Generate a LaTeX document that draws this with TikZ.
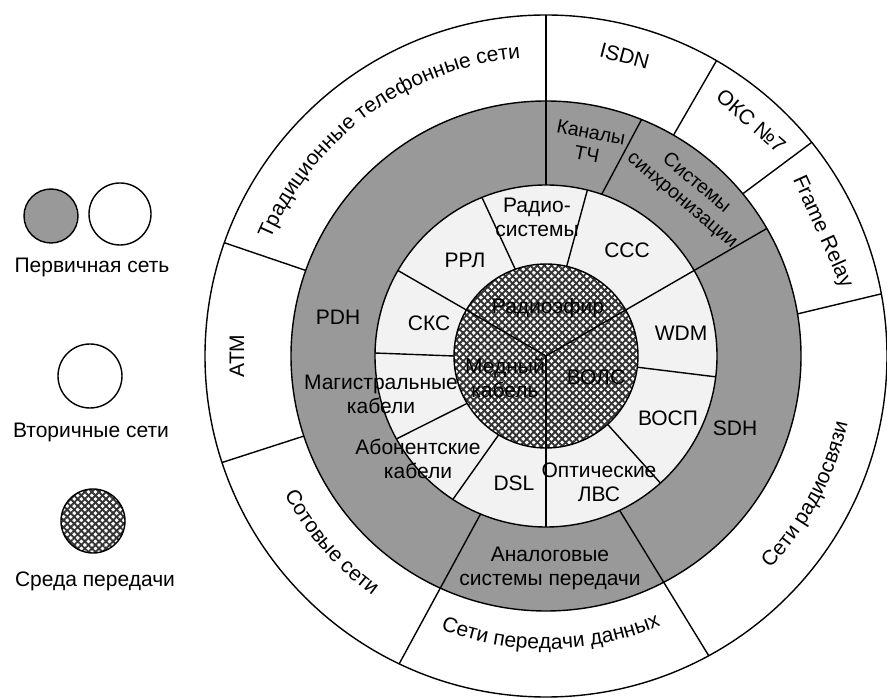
\documentclass[tikz,border=0pt]{standalone}
\usepackage{fontspec}
\setmainfont{Liberation Sans}
\usetikzlibrary{decorations.text,patterns.meta}
\newcommand{\ringfont}{\fontsize{21}{24}\selectfont}
\newcommand{\arclabel}[4]{%
  \path[decorate,decoration={text along path,text align=center,text={|\ringfont|#1}}]
    (#2:#4pt) arc[start angle=#2,end angle=#3,radius=#4pt];}
\begin{document}
\begin{tikzpicture}[x=1pt,y=1pt,
  ring/.style={draw=black,line width=1.4pt},
  lbl/.style={font=\ringfont,align=center,inner sep=0pt},
  smlbl/.style={font=\fontsize{19.5}{22}\selectfont,align=center,inner sep=0pt},
  hatcha/.style={pattern={Lines[angle=45,distance=5pt,line width=1.9pt]},pattern color=black!80},
  hatchb/.style={pattern={Lines[angle=-45,distance=5pt,line width=1.9pt]},pattern color=black!80},
  primfill/.style={fill=black!40},
  secfill/.style={fill=black!5}]
\useasboundingbox (0,0) rectangle (887,697);
\fill[white] (0,0) rectangle (887,697);

% ---------- legend ----------
\draw[ring,primfill] (51,481) circle (27pt);
\draw[ring,fill=white] (120,483) circle (31pt);
\node[lbl] (lp) at (92,430) {Первичная сеть};
\draw[ring,fill=white] (90,321) circle (32pt);
\node[lbl] (lv) at (91,265) {Вторичные сети};
\fill[white] (93,176) circle (32pt);
\path[hatcha] (93,176) circle (32pt);
\path[hatchb] (93,176) circle (32pt);
\draw[ring] (93,176) circle (32pt);
\node[lbl] (ls) at (95,116) {Среда передачи};

% ---------- rings ----------
\begin{scope}[shift={(546,341)}]
\draw[ring,fill=white] (0,0) circle (341pt);
\draw[ring,primfill] (0,0) circle (255pt);
\draw[ring,secfill] (0,0) circle (171pt);
\fill[white] (0,0) circle (92pt);
\path[hatcha] (0,0) circle (92pt);
\path[hatchb] (0,0) circle (92pt);
\draw[ring] (0,0) circle (92pt);

% outer ring spokes
\draw[ring] (90:171pt) -- (90:341pt);
\draw[ring] (60:255pt) -- (60:341pt);
\draw[ring] (39.5:255pt) -- (38.8:341pt);
\draw[ring] (9.5:255pt) -- (10.5:341pt);
\draw[ring] (-64.5:171pt) -- (-61.5:341pt);
\draw[ring] (-112.5:171pt) -- (-115.5:341pt);
\draw[ring] (198.3:255pt) -- (198.2:341pt);
\draw[ring] (160.4:255pt) -- (160.6:341pt);
% grey ring spokes
\draw[ring] (71:171pt) -- (68:255pt);
\draw[ring] (0,0) -- (30:255pt);
% white ring spokes
\draw[ring] (109.5:92pt) -- (112:171pt);
\draw[ring] (77:92pt) -- (76:171pt);
\draw[ring] (-7:92pt) -- (-7:171pt);
\draw[ring] (-48:92pt) -- (-48:171pt);
\draw[ring] (0,0) -- (-90:171pt);
\draw[ring] (-121:92pt) -- (-123:171pt);
\draw[ring] (-149:92pt) -- (-151:171pt);
\draw[ring] (180:92pt) -- (179:171pt);
\draw[ring] (0,0) -- (150:171pt);

% outer ring labels
\arclabel{Традиционные телефонные сети}{175}{77}{299}
\node[lbl,rotate=-14.7] (isdn) at (75.3:310pt) {ISDN};
\node[lbl,rotate=-41.1] (oks) at (48.9:312pt) {ОКС №7};
\node[lbl,rotate=-65.8] (fr) at (24.2:303pt) {Frame Relay};
\node[lbl,rotate=90] (atm) at (180:309pt) {ATM};
\arclabel{Сети радиосвязи}{-62}{6}{309}
\arclabel{Сети передачи данных}{-135}{-43}{293}
\arclabel{Сотовые сети}{-170}{-108}{296}

% grey ring labels
\node[smlbl,rotate=-11] (kch) at (43,213) {Каналы\\ТЧ};
\node[smlbl,rotate=-40] (sync) at (143,164) {Системы\\синхронизации};
\node[lbl] (pdh) at (-208,39) {PDH};
\node[lbl] (sdh) at (189,-72) {SDH};
\node[lbl] (asp) at (4,-212) {Аналоговые\\системы передачи};

% white ring labels
\node[lbl] (rs) at (-9,139) {Радио-\\системы};
\node[lbl] (rrl) at (-81,96) {РРЛ};
\node[lbl] (ccc) at (81,106) {ССС};
\node[lbl] (wdm) at (135,23) {WDM};
\node[lbl] (vosp) at (122,-62) {ВОСП};
\node[lbl] (olvs) at (53,-126) {Оптические\\ЛВС};
\node[lbl] (dsl) at (-32,-127) {DSL};
\node[lbl] (abk) at (-128,-103) {Абонентские\\кабели};
\node[lbl] (mk) at (-165,-38) {Магистральные\\кабели};
\node[lbl] (sks) at (-117,33) {СКС};

% medium labels
\node[lbl] (re) at (2,48) {Радиоэфир};
\node[lbl] (mc) at (-41,-22) {Медный\\кабель};
\node[lbl] (vols) at (50,-21) {ВОЛС};
\end{scope}
\end{tikzpicture}
\end{document}
